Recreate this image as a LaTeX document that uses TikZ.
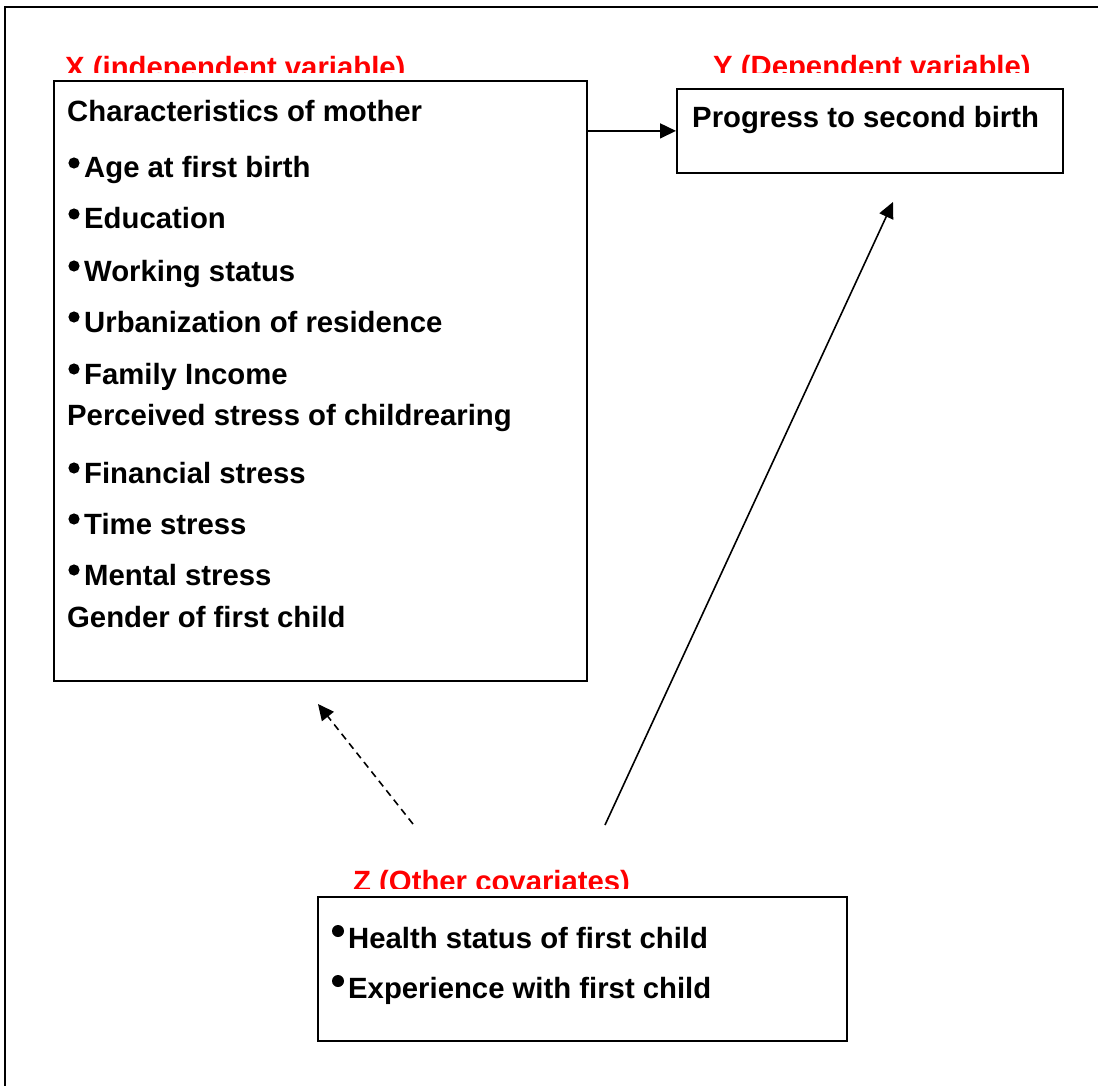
\documentclass[tikz,border=0pt]{standalone}
\usepackage{fontspec}
\setmainfont{Liberation Sans}
\usetikzlibrary{arrows.meta}
\definecolor{labred}{RGB}{255,0,0}
\begin{document}
\begin{tikzpicture}[x=1pt,y=-1pt,
  box/.style={draw, line width=1.8pt, inner sep=0pt, anchor=north west},
  txt/.style={anchor=base west, inner sep=0pt, font=\bfseries\fontsize{29.3}{35}\selectfont},
  lbl/.style={txt, text=labred},
  bul/.style={fill=black},
  conn/.style={line width=1.6pt, -{Triangle[length=16pt,width=15pt]}},
  dconn/.style={conn, dash pattern=on 7pt off 5pt}]
\useasboundingbox (0,0) rectangle (1098,1086);
\draw[line width=1.5pt] (5,1100) -- (5,7) -- (1110,7);

% boxes
\node[box, minimum width=533pt, minimum height=600pt] (xbox) at (53,80) {};
\node[box, minimum width=386pt, minimum height=84pt] (ybox) at (676,88) {};
\node[box, minimum width=529pt, minimum height=144pt] (zbox) at (317,896) {};

% labels (clipped at bottom as in the original)
\begin{scope}
  \clip (0,0) rectangle (1098,73);
  \node[lbl] (xlab) at (65,78) {X (independent variable)};
  \node[lbl] (ylab) at (713,76.5) {Y (Dependent variable)};
\end{scope}
\begin{scope}
  \clip (0,850) rectangle (1098,888);
  \node[lbl] (zlab) at (353,891) {Z (Other covariates)};
\end{scope}

% X box contents
\node[txt] (x1) at (67,122) {Characteristics of mother};
\node[txt] (x2) at (84,178) {Age at first birth};
\node[txt] (x3) at (84,229) {Education};
\node[txt] (x4) at (84,281) {Working status};
\node[txt] (x5) at (84,332) {Urbanization of residence};
\node[txt] (x6) at (84,384) {Family Income};
\node[txt] (x7) at (67,425) {Perceived stress of childrearing};
\node[txt] (x8) at (84,483) {Financial stress};
\node[txt] (x9) at (84,534) {Time stress};
\node[txt] (x10) at (84,585) {Mental stress};
\node[txt] (x11) at (67,627) {Gender of first child};
\foreach \yy in {178,229,281,332,384,483,534,585}
  \fill[bul] (74,\yy-15) circle (5.6pt);

% Y box contents
\node[txt] (y1) at (692,128) {Progress to second birth};

% Z box contents
\node[txt] (z1) at (348,948) {Health status of first child};
\node[txt] (z2) at (348,998) {Experience with first child};
\foreach \yy in {948,998}
  \fill[bul] (338,\yy-17) circle (6pt);

% connectors
\coordinate (zsolid) at (605,825);
\coordinate (zdash) at (413,824);
\coordinate (ytip) at (893,202);
\coordinate (xtip) at (318,704);
\draw[conn] (xbox.east |- ybox.west) -- (ybox.west);
\draw[conn] (zsolid) -- (ytip);
\draw[dconn] (zdash) -- (xtip);
\end{tikzpicture}
\end{document}
